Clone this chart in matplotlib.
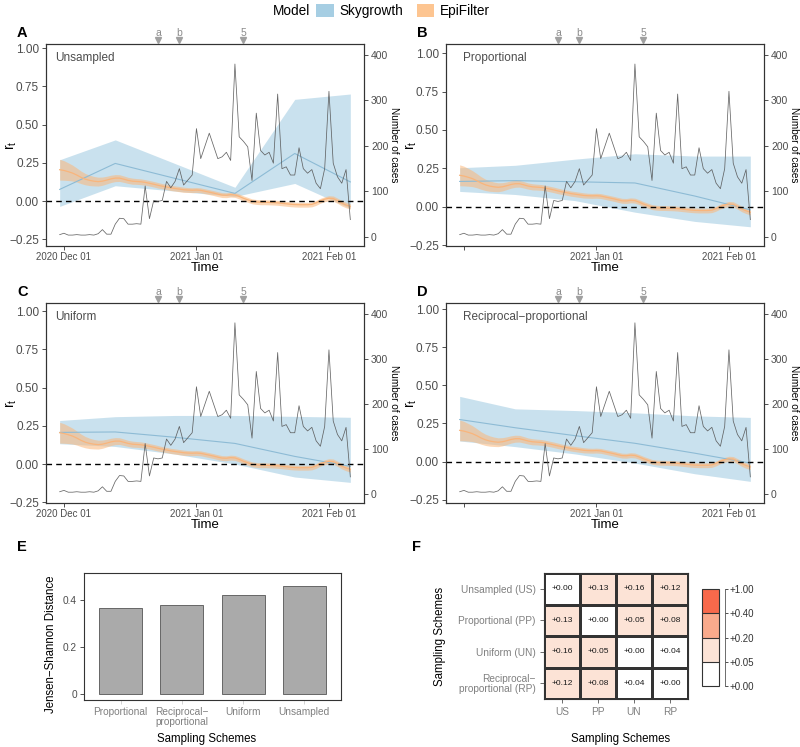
import numpy as np
import pandas as pd
import matplotlib
matplotlib.use('Agg')
import matplotlib.pyplot as plt
import matplotlib.dates as mdates
import matplotlib.transforms as mtransforms
from matplotlib.patches import Patch
from matplotlib.colors import ListedColormap, BoundaryNorm
from matplotlib.cm import ScalarMappable

plt.rcParams['font.family'] = ['Liberation Sans', 'DejaVu Sans']
plt.rcParams['axes.edgecolor'] = '#333333'
plt.rcParams['xtick.color'] = '#333333'
plt.rcParams['ytick.color'] = '#333333'

# ---- data ----
case_start = '2020-11-30'
cases = [5, 8, 4, 4, 5, 4, 4, 5, 4, 7, 16, 6, 6, 28, 41, 40, 28, 28, 29, 28,
         112, 40, 80, 78, 80, 122, 108, 122, 150, 114, 125, 136, 238, 172, 200, 228,
         200, 172, 176, 186, 168, 380, 220, 210, 198, 124, 272, 190, 180, 186, 162,
         314, 150, 154, 136, 136, 196, 150, 140, 148, 118, 106, 150, 320, 162, 132,
         118, 148, 38]

epi_mean = [0.205, 0.200, 0.192, 0.183, 0.170, 0.155, 0.143, 0.135, 0.130, 0.127,
            0.130, 0.137, 0.145, 0.150, 0.150, 0.143, 0.135, 0.130, 0.128, 0.126,
            0.122, 0.116, 0.110, 0.103, 0.097, 0.092, 0.086, 0.082, 0.078, 0.074,
            0.072, 0.071, 0.072, 0.070, 0.064, 0.058, 0.052, 0.045, 0.039, 0.038,
            0.042, 0.040, 0.030, 0.018, 0.008, -0.002, -0.006, -0.008, -0.008, -0.009,
            -0.010, -0.012, -0.015, -0.018, -0.021, -0.023, -0.024, -0.024, -0.024, -0.022,
            -0.012, 0.002, 0.012, 0.018, 0.016, 0.002, -0.014, -0.026, -0.035]
epi_half = [0.068, 0.064, 0.058, 0.052, 0.046, 0.041, 0.037, 0.034, 0.031, 0.029,
            0.027, 0.025, 0.024, 0.023, 0.022, 0.021, 0.020, 0.020, 0.019, 0.019,
            0.018, 0.018, 0.018, 0.018, 0.017, 0.017, 0.017, 0.017, 0.017, 0.017,
            0.016, 0.016, 0.016, 0.016, 0.016, 0.016, 0.016, 0.016, 0.016, 0.016,
            0.016, 0.016, 0.016, 0.016, 0.016, 0.016, 0.016, 0.016, 0.016, 0.016,
            0.016, 0.016, 0.016, 0.016, 0.016, 0.016, 0.016, 0.016, 0.016, 0.016,
            0.016, 0.016, 0.016, 0.017, 0.017, 0.017, 0.018, 0.018, 0.018]

sky_dates = ['2020-11-30', '2020-12-13', '2020-12-27', '2021-01-10', '2021-01-24', '2021-02-06']
sky_mean_us = [0.076, 0.246, 0.148, 0.050, 0.311, 0.125]
sky_low_us = [-0.035, 0.100, 0.065, 0.030, 0.115, -0.048]
sky_up_us = [0.270, 0.400, 0.245, 0.090, 0.665, 0.700]
sky_mean_pp = [0.165, 0.170, 0.163, 0.155, 0.070, -0.020]
sky_low_pp = [0.100, 0.080, 0.040, -0.035, -0.095, -0.130]
sky_up_pp = [0.254, 0.270, 0.310, 0.345, 0.330, 0.330]
sky_mean_un = [0.207, 0.210, 0.175, 0.135, 0.050, -0.015]
sky_low_un = [0.133, 0.115, 0.065, 0.000, -0.085, -0.120]
sky_up_un = [0.285, 0.310, 0.318, 0.318, 0.312, 0.306]
sky_mean_rp = [0.276, 0.222, 0.170, 0.120, 0.055, -0.010]
sky_low_rp = [0.135, 0.098, 0.050, -0.010, -0.080, -0.130]
sky_up_rp = [0.428, 0.346, 0.335, 0.320, 0.300, 0.290]

event_dates = ['2020-12-23', '2020-12-28', '2021-01-12']
event_labels = ['a', 'b', '5']

schemes = ['Proportional', 'Reciprocal\u2212\nproportional', 'Uniform', 'Unsampled']
js_dist = [0.367, 0.379, 0.421, 0.458]

pair_codes = ['US', 'PP', 'UN', 'RP']
pair_names = ['Unsampled (US)', 'Proportional (PP)', 'Uniform (UN)',
              'Reciprocal\u2212\nproportional (RP)']
pair_dist = [[0.00, 0.13, 0.16, 0.12],
             [0.13, 0.00, 0.05, 0.08],
             [0.16, 0.05, 0.00, 0.04],
             [0.12, 0.08, 0.04, 0.00]]
bin_edges = [0.0, 0.05, 0.20, 0.40, 1.00]
bin_colors = ['#FFFFFF', '#FCE3D6', '#F9AA8C', '#F8694B']

W, H = 800, 747
fig = plt.figure(figsize=(W / 100, H / 100), dpi=100)


def px_axes(x1, y1, x2, y2):
    return fig.add_axes([x1 / W, 1 - y2 / H, (x2 - x1) / W, (y2 - y1) / H])


case_days = pd.date_range(case_start, periods=len(cases))
sky_days = pd.to_datetime(sky_dates)
ev_days = pd.to_datetime(event_dates)
epi_mean = np.array(epi_mean)
epi_half = np.array(epi_half)

blue = '#A6CEE3'
orange = '#FDBF6F'

panels = [
    ('A', 'Unsampled', sky_mean_us, sky_low_us, sky_up_us, (-0.294, 1.027), (46, 44, 364, 246), True),
    ('B', 'Proportional', sky_mean_pp, sky_low_pp, sky_up_pp, (-0.255, 1.059), (446, 44, 764, 246), False),
    ('C', 'Uniform', sky_mean_un, sky_low_un, sky_up_un, (-0.255, 1.054), (46, 303, 364, 503), True),
    ('D', 'Reciprocal\u2212proportional', sky_mean_rp, sky_low_rp, sky_up_rp, (-0.272, 1.041), (446, 303, 764, 503), False),
]

x0 = mdates.date2num(pd.Timestamp('2020-12-01'))
x1 = mdates.date2num(pd.Timestamp('2021-02-01'))
tick_days = pd.to_datetime(['2020-12-01', '2021-01-01', '2021-02-01'])

for letter, title, m, lo, up, ylim, box, show_dec in panels:
    ax = px_axes(*box)
    ax.fill_between(sky_days, lo, up, color=blue, alpha=0.6, lw=0)
    ax.plot(sky_days, m, color='#8DBBD5', lw=0.8)
    ax.fill_between(case_days, epi_mean - epi_half, epi_mean + epi_half,
                    color='#FBB77A', alpha=0.55, lw=0)
    ax.plot(case_days, epi_mean, color='#F9B57C', lw=0.9)
    ax.axhline(0, color='black', ls=(0, (4, 3)), lw=1.0)
    ax.set_xlim(x0 - 4.2, x1 + 8.2)
    ax.set_ylim(*ylim)
    ax.set_yticks([-0.25, 0, 0.25, 0.5, 0.75, 1.0])
    ax.set_yticklabels(['\u22120.25', '0.00', '0.25', '0.50', '0.75', '1.00'])
    ax.set_xticks(tick_days)
    labs = [d.strftime('%Y %b %d') for d in tick_days]
    if not show_dec:
        labs[0] = ''
    ax.set_xticklabels(labs)
    ax.tick_params(axis='y', labelsize=8.5, length=3, width=0.6, colors='#333333',
                   labelcolor='#4d4d4d', pad=2)
    ax.tick_params(axis='x', labelsize=7, length=3, width=0.6, labelcolor='#4d4d4d', pad=1)
    ax.set_ylabel('$\\mathregular{r_t}$', fontsize=10, va='center')
    ax.yaxis.set_label_coords(-0.11, 0.5)
    ax.set_xlabel('Time', fontsize=9.5, va='center')
    ax.xaxis.set_label_coords(0.5, -0.11)
    for s in ax.spines.values():
        s.set_linewidth(0.8)
    ax.text(0.03 if letter not in ('B', 'D') else 0.055, 0.93, title,
            transform=ax.transAxes, fontsize=8.5, color='#4d4d4d', va='center')

    trans = mtransforms.blended_transform_factory(ax.transData, ax.transAxes)
    for d, lab in zip(ev_days, event_labels):
        ax.plot([d], [1.02], marker='v', color='#A0A0A0', ms=5, clip_on=False, transform=trans)
        ax.text(d, 1.055, lab, transform=trans, ha='center', va='center',
                fontsize=7.5, color='#8c8c8c')

    ax2 = ax.twinx()
    ax2.plot(case_days, cases, color='#555555', lw=0.55, alpha=0.9)
    ax2.set_ylim(-20, 424)
    ax2.set_yticks([0, 100, 200, 300, 400])
    ax2.tick_params(axis='y', labelsize=7.5, length=3, width=0.6, labelcolor='#4d4d4d', pad=2)
    ax2.set_ylabel('Number of cases', fontsize=7.2, rotation=270, va='center')
    ax2.yaxis.set_label_coords(1.093, 0.5)
    for s in ax2.spines.values():
        s.set_linewidth(0.8)

    fig.text((box[0] - 29) / W, 1 - (box[1] - 11) / H, letter, fontsize=10.5,
             fontweight='bold', va='center', ha='left')

# legend
fig.text(291 / W, 1 - 11 / H, 'Model', fontsize=9.8, ha='center', va='center')
fig.legend(handles=[Patch(color=blue, lw=0), Patch(color='#FDC591', lw=0)],
           labels=['Skygrowth', 'EpiFilter'], ncol=2, loc='center left',
           bbox_to_anchor=(316 / W, 1 - 11 / H), frameon=False, fontsize=9.8,
           handlelength=1.3, handleheight=1.1, handletextpad=0.4, columnspacing=1.0,
           borderaxespad=0, borderpad=0)

# ---- panel E ----
axe = px_axes(84, 573, 341, 700)
xpos = np.arange(len(schemes))
axe.bar(xpos, js_dist, width=0.7, color='#AAAAAA', edgecolor='#555555', lw=0.6)
axe.set_xlim(-0.6, 3.6)
axe.set_ylim(-0.026, 0.515)
axe.set_yticks([0, 0.2, 0.4])
axe.set_yticklabels(['0', '0.2', '0.4'])
axe.set_xticks(xpos)
axe.set_xticklabels(schemes, linespacing=1.0)
axe.tick_params(axis='y', labelsize=7.3, length=3, width=0.6, labelcolor='#4d4d4d', pad=2)
axe.tick_params(axis='x', labelsize=7.3, length=3, width=0.6, labelcolor='#808080',
                color='#cccccc', pad=2)
axe.set_ylabel('Jensen\u2212Shannon Distance', fontsize=8.3, va='center')
axe.yaxis.set_label_coords(-0.13, 0.44)
axe.set_xlabel('Sampling Schemes', fontsize=8.3, va='center')
axe.xaxis.set_label_coords(0.475, -0.31)
for s in axe.spines.values():
    s.set_linewidth(0.8)
fig.text(17 / W, 1 - 547 / H, 'E', fontsize=10.5, fontweight='bold', va='center')

# ---- panel F ----
axf = px_axes(544, 573, 688, 699)
cmap = ListedColormap(bin_colors)
norm = BoundaryNorm(bin_edges, cmap.N)
vals = np.array(pair_dist)
axf.pcolormesh(np.arange(5), np.arange(5), vals, cmap=cmap, norm=norm,
               edgecolors='#333333', linewidth=0.8)
axf.set_xlim(0, 4)
axf.set_ylim(4, 0)
for i in range(4):
    for j in range(4):
        axf.text(j + 0.5, i + 0.5, '%+.2f' % vals[i, j], ha='center', va='center',
                 fontsize=6, color='#1a1a1a')
axf.set_xticks(np.arange(4) + 0.5)
axf.set_xticklabels(pair_codes)
axf.set_yticks(np.arange(4) + 0.5)
axf.set_yticklabels(pair_names, linespacing=1.0)
axf.tick_params(labelsize=7.3, length=3, width=0.6, labelcolor='#808080', color='#555555', pad=3)
axf.set_ylabel('Sampling Schemes', fontsize=8.3, va='center')
axf.yaxis.set_label_coords(-0.72, 0.5)
axf.set_xlabel('Sampling Schemes', fontsize=8.3, va='center')
axf.xaxis.set_label_coords(0.53, -0.32)
for s in axf.spines.values():
    s.set_linewidth(0.8)
fig.text(412 / W, 1 - 547 / H, 'F', fontsize=10.5, fontweight='bold', va='center')

cax = px_axes(702, 589, 719, 686)
cb = fig.colorbar(ScalarMappable(norm=norm, cmap=cmap), cax=cax, spacing='uniform',
                  ticks=bin_edges, drawedges=True)
cb.ax.set_yticklabels(['%+.2f' % v for v in bin_edges])
cb.outline.set_edgecolor('#333333')
cb.outline.set_linewidth(0.8)
cb.dividers.set_color('#333333')
cb.dividers.set_linewidth(0.8)
cb.ax.spines['right'].set_visible(True)
cb.ax.spines['right'].set_position(('outward', 4))
cb.ax.spines['right'].set_color('#555555')
cb.ax.spines['right'].set_linewidth(0.6)
cb.ax.tick_params(labelsize=7, length=2.5, width=0.6, labelcolor='#333333', pad=1)

fig.savefig('out.png', dpi=100)
